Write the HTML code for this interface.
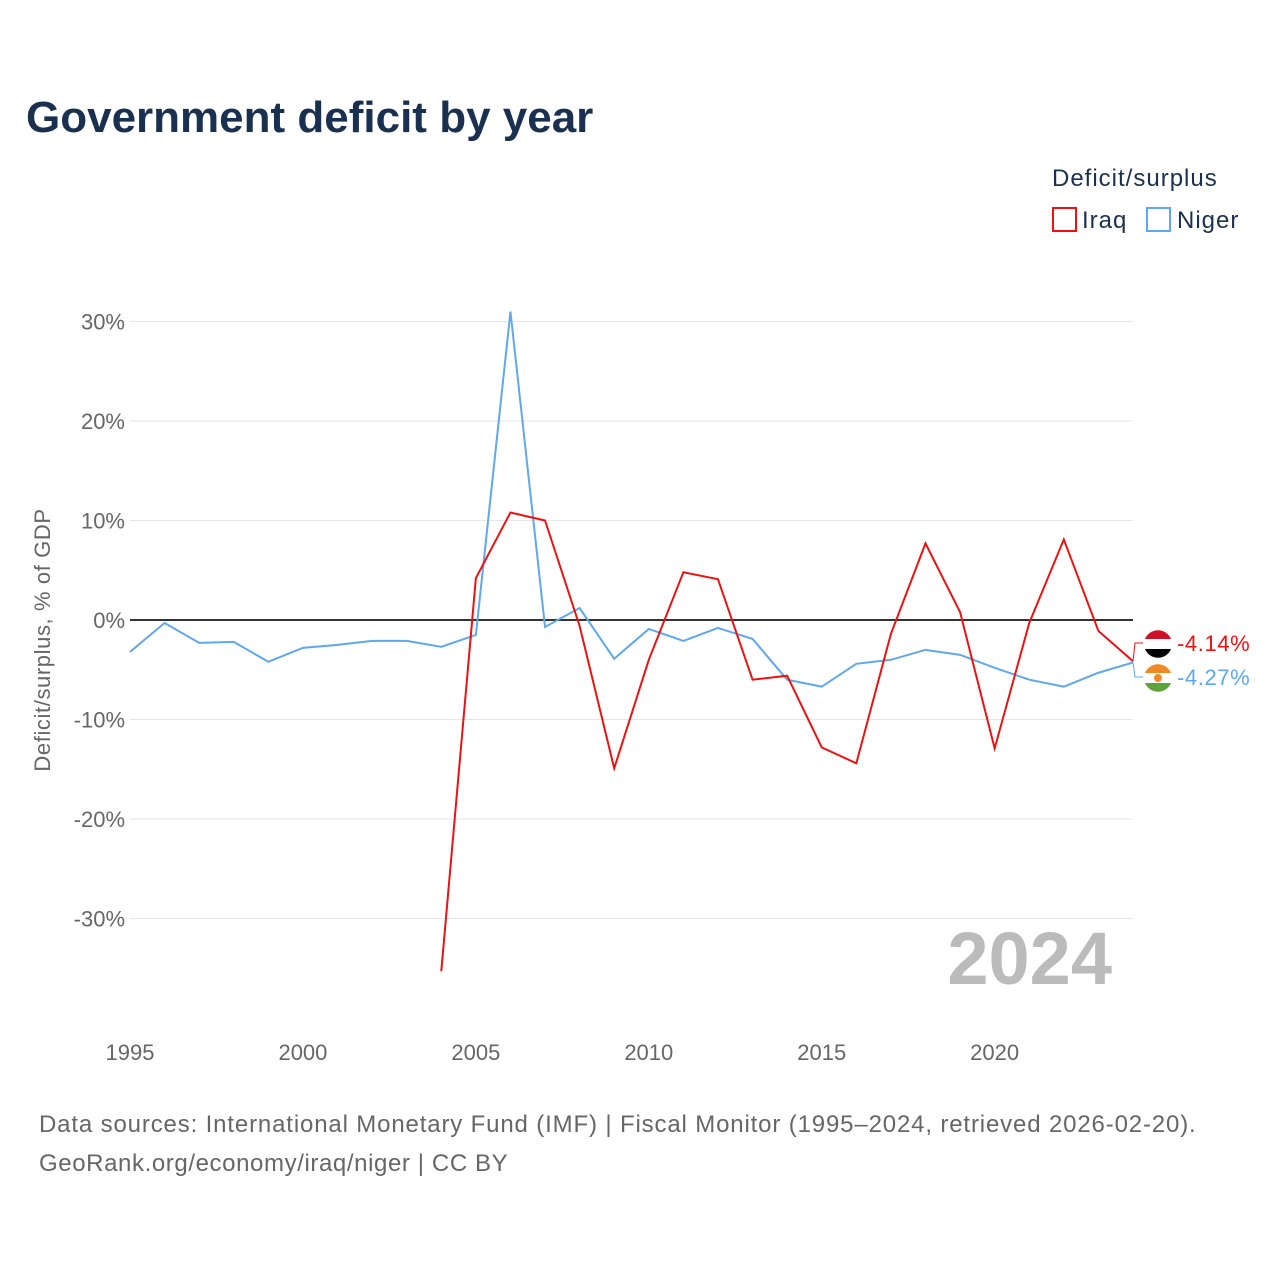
<!DOCTYPE html>
<html><head><meta charset="utf-8"><style>
body{margin:0;background:#fff;font-family:"Liberation Sans",sans-serif}
</style></head><body>
<svg id="chart" width="1280" height="1280" xmlns="http://www.w3.org/2000/svg" font-family="Liberation Sans, sans-serif">
<text x="26" y="132" font-size="44" font-weight="bold" fill="#1a3050">Government deficit by year</text>
<text x="1052" y="186" font-size="24" fill="#1a3050" letter-spacing="1">Deficit/surplus</text>
<g><rect x="1053" y="208" width="23" height="23" fill="none" stroke="#ee1111" stroke-width="2"/><text x="1082" y="228" font-size="24" fill="#1a3050" letter-spacing="1">Iraq</text></g>
<g><rect x="1147" y="208" width="23" height="23" fill="none" stroke="#5fa8ec" stroke-width="2"/><text x="1177" y="228" font-size="24" fill="#1a3050" letter-spacing="1">Niger</text></g>
<text transform="translate(50,640) rotate(-90)" text-anchor="middle" font-size="22" fill="#666" letter-spacing="0.6">Deficit/surplus, % of GDP</text>
<g id="grid"></g><g id="yticks"></g><g id="xticks"></g>
<text x="1112" y="984" text-anchor="end" font-size="74" font-weight="bold" fill="#bbb">2024</text>
<g id="series"></g>
<text x="39" y="1132" font-size="24" fill="#666" letter-spacing="0.85">Data sources: International Monetary Fund (IMF) | Fiscal Monitor (1995–2024, retrieved 2026-02-20).</text>
<text x="39" y="1171" font-size="24" fill="#666" letter-spacing="0.6">GeoRank.org/economy/iraq/niger | CC BY</text>
</svg>
<script>
const years=[1995,1996,1997,1998,1999,2000,2001,2002,2003,2004,2005,2006,2007,2008,2009,2010,2011,2012,2013,2014,2015,2016,2017,2018,2019,2020,2021,2022,2023,2024];
const niger=[-3.2,-0.3,-2.3,-2.2,-4.2,-2.8,-2.5,-2.1,-2.1,-2.7,-1.5,31.0,-0.7,1.2,-3.9,-0.9,-2.1,-0.8,-1.9,-6.0,-6.7,-4.4,-4.0,-3.0,-3.5,-4.8,-6.0,-6.7,-5.3,-4.27];
const iraq=[null,null,null,null,null,null,null,null,null,-35.3,4.2,10.8,10.0,-0.6,-14.9,-4.0,4.8,4.1,-6.0,-5.6,-12.8,-14.4,-1.4,7.7,0.8,-12.9,-0.3,8.1,-1.1,-4.14];
const yTicks=[30,20,10,0,-10,-20,-30];
const xTicks=[1995,2000,2005,2010,2015,2020];
const NS="http://www.w3.org/2000/svg";
const X=y=>130+(y-1995)*(1133-130)/29;
const Y=v=>620-v*9.95;
function mk(t,a,p){const e=document.createElementNS(NS,t);for(const k in a)e.setAttribute(k,a[k]);p.appendChild(e);return e;}
const grid=document.getElementById('grid'),yt=document.getElementById('yticks'),xt=document.getElementById('xticks'),se=document.getElementById('series');
yTicks.forEach(v=>{
 const l=mk('line',{x1:130,x2:1133,y1:Y(v),y2:Y(v),stroke:v===0?'#333':'#e6e6e6','stroke-width':v===0?2:1},grid);
 
 
 const t=mk('text',{x:125,y:Y(v)+8,'text-anchor':'end','font-size':22,fill:'#666'},yt);
 t.textContent=v+'%';
 
 
});
xTicks.forEach(y=>{
 const t=mk('text',{x:X(y),y:1060,'text-anchor':'middle','font-size':22,fill:'#666'},xt);
 t.textContent=y;
 
 
});
function line(vals,color,name){
 let d='';vals.forEach((v,i)=>{if(v===null)return;d+=(d?'L':'M')+X(years[i])+','+Y(v);});
 const p=mk('path',{d:d,fill:'none',stroke:color,'stroke-width':2},se);
 
 
}
line(niger,'#5fa8ec','niger-line');
line(iraq,'#ee1111','iraq-line');
const li=iraq[iraq.length-1],ln=niger[niger.length-1];
const g=mk('g',{},se);


mk('path',{d:`M${X(2024)},${Y(li)} L1135,643 L1143,643`,fill:'none',stroke:'#ee1111','stroke-width':1},g);
mk('path',{d:`M${X(2024)},${Y(ln)} L1135,677 L1143,677`,fill:'none',stroke:'#5fa8ec','stroke-width':1},g);
mk('circle',{cx:1158,cy:644,r:14,fill:'#fff'},g);
mk('path',{d:'M1145,639 A14,14 0 0 1 1171,639 Z',fill:'#ce1126'},g);
mk('path',{d:'M1145,649 A14,14 0 0 0 1171,649 Z',fill:'#000'},g);
mk('circle',{cx:1158,cy:678,r:14,fill:'#fff'},g);
mk('path',{d:'M1145,673 A14,14 0 0 1 1171,673 Z',fill:'#f08a24'},g);
mk('path',{d:'M1145,683 A14,14 0 0 0 1171,683 Z',fill:'#5ea23c'},g);
mk('circle',{cx:1158,cy:678,r:4,fill:'#f08a24'},g);
const t1=mk('text',{x:1177,y:651,'font-size':22,fill:'#ee1111','letter-spacing':0.6},g);t1.textContent=li.toFixed(2)+'%';
const t2=mk('text',{x:1177,y:685,'font-size':22,fill:'#5fa8ec','letter-spacing':0.6},g);t2.textContent=ln.toFixed(2)+'%';
</script>
</body></html>
